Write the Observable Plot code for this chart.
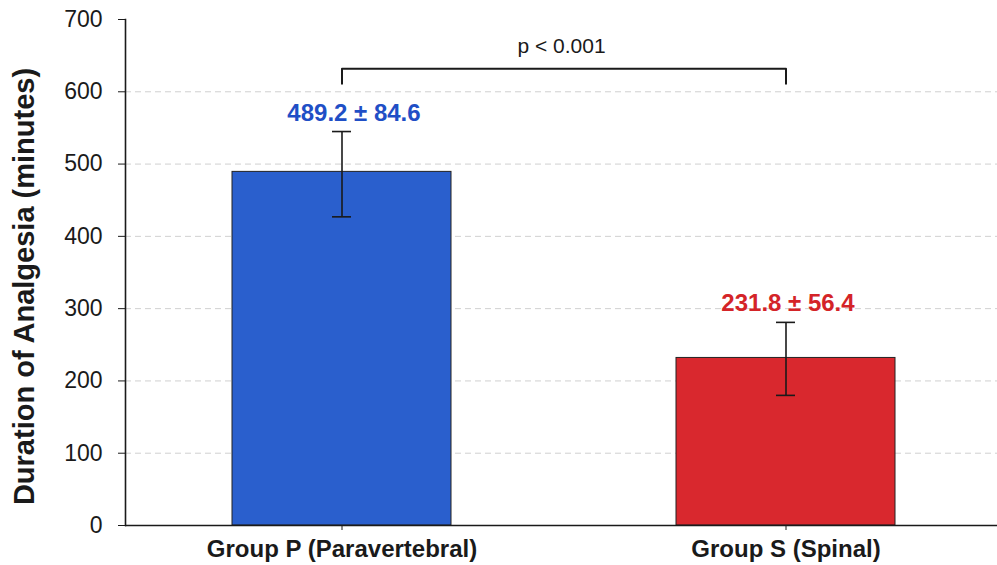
<!DOCTYPE html>
<html>
<head>
<meta charset="utf-8">
<script src="https://cdn.jsdelivr.net/npm/d3@7"></script>
<script src="https://cdn.jsdelivr.net/npm/@observablehq/plot@0.6"></script>
<style>
  html, body { margin: 0; padding: 0; background: #fff; }
  #chart svg { display: block; font-family: "Liberation Sans", Arial, sans-serif; }
</style>
</head>
<body>
<div id="chart"></div>
<script>
// ---- data ----
const groups = ["Group P (Paravertebral)", "Group S (Spinal)"];
const means = [489.2, 231.8];
const sds = [84.6, 56.4];
const errLow = [427, 180];     // drawn lower whisker end
const errHigh = [545, 281];    // drawn upper whisker end
const valueLabels = ["489.2 ± 84.6", "231.8 ± 56.4"];
const barColors = ["#2a5fcd", "#d9282e"];
const labelColors = ["#1f4fc6", "#d42428"];
const yTicks = [0, 100, 200, 300, 400, 500, 600, 700];
const gridTicks = [100, 200, 300, 400, 500, 600];
const yTitle = "Duration of Analgesia (minutes)";
const pText = "p < 0.001";
const bracketTop = 632;
const bracketBottom = 611;
const pTextY = 653;

const data = groups.map((g, i) => ({
  group: g, mean: means[i], sd: sds[i], lo: errLow[i], hi: errHigh[i],
  label: valueLabels[i], color: barColors[i], labelColor: labelColors[i]
}));

const bracket = [
  {group: groups[0], y: bracketBottom},
  {group: groups[0], y: bracketTop},
  {group: groups[1], y: bracketTop},
  {group: groups[1], y: bracketBottom}
];

const ink = "#1a1a1a";

const chart = Plot.plot({
  width: 997,
  height: 565,
  marginLeft: 125,
  marginRight: 0,
  marginTop: 19,
  marginBottom: 40,
  style: {fontFamily: '"Liberation Sans", Arial, sans-serif', background: "#fff"},
  x: {domain: groups, range: [125, 1002], paddingInner: 0.507, paddingOuter: 0.241, label: null},
  y: {domain: [0, 700], label: null},
  color: {type: "identity"},
  marks: [
    Plot.ruleY(gridTicks, {stroke: "#d0d0d0", strokeWidth: 1, strokeDasharray: "6,4"}),
    Plot.barY(data, {x: "group", y: "mean", fill: "color", stroke: "#222", strokeWidth: 1}),
    Plot.ruleX(data, {x: "group", y1: "lo", y2: "hi", stroke: ink, strokeWidth: 1.6}),
    Plot.tickY(data, {x: "group", y: "hi", stroke: ink, strokeWidth: 1.6, insetLeft: 100, insetRight: 100}),
    Plot.tickY(data, {x: "group", y: "lo", stroke: ink, strokeWidth: 1.6, insetLeft: 100, insetRight: 100}),
    Plot.text(data.slice(0, 1), {x: "group", y: "hi", text: "label", fill: "labelColor", fontSize: 24, fontWeight: "bold", lineAnchor: "bottom", dy: -11, dx: 12}),
    Plot.text(data.slice(1), {x: "group", y: "hi", text: "label", fill: "labelColor", fontSize: 24, fontWeight: "bold", lineAnchor: "bottom", dy: -11, dx: 2}),
    Plot.line(bracket, {x: "group", y: "y", stroke: ink, strokeWidth: 2}),
    Plot.text([pText], {y: () => pTextY, text: d => d, fontSize: 21, fill: ink, lineAnchor: "bottom"}),
    Plot.ruleY([0], {stroke: ink, strokeWidth: 1.6}),
    Plot.frame({anchor: "left", stroke: ink, strokeWidth: 1.6}),
    Plot.axisY({ticks: yTicks, tickSize: 7, tickPadding: 16, fontSize: 23, stroke: ink, color: ink, label: null}),
    Plot.axisX({tickSize: 5, tickPadding: 9, fontSize: 24, fontWeight: "bold", stroke: ink, color: ink, label: null}),
    Plot.text([yTitle], {text: d => d, frameAnchor: "left", textAnchor: "middle", rotate: -90, dx: -101, dy: 14, fontSize: 29, fontWeight: "bold", fill: ink})
  ]
});

document.getElementById("chart").appendChild(chart);
</script>
</body>
</html>
